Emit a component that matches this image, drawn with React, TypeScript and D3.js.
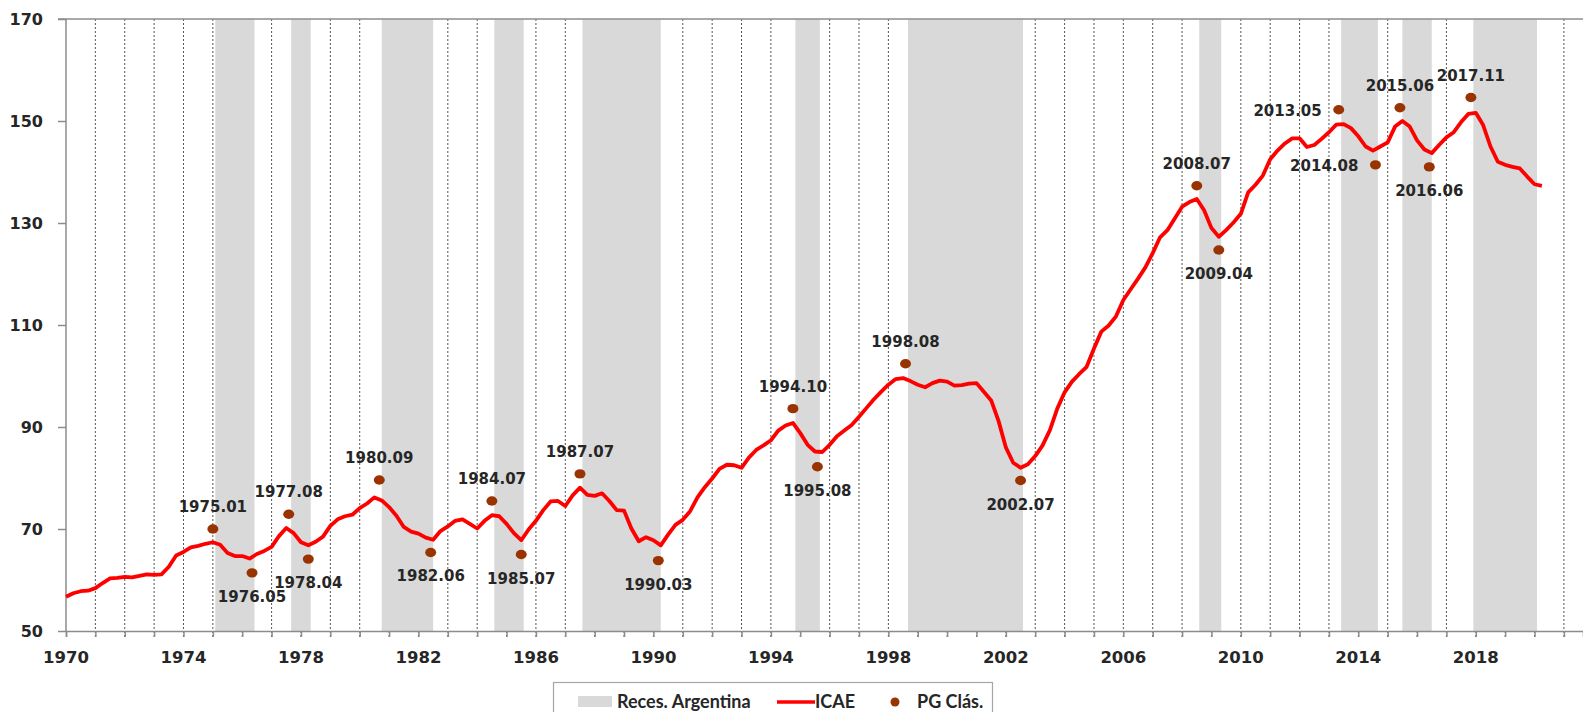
import React, { useEffect, useRef } from 'react';
import * as d3 from 'd3';

// ICAE, quarterly readings starting 1970 Q1 (step 0.25 yr)
const icaeStart = 1970;
const icaeValues = [
  56.7, 57.4, 57.8, 57.9, 58.4, 59.4, 60.3, 60.4, 60.6, 60.5, 60.8, 61.1,
  61.0, 61.1, 62.6, 64.8, 65.5, 66.4, 66.7, 67.1, 67.4, 66.9, 65.3, 64.7,
  64.7, 64.2, 65.1, 65.7, 66.5, 68.6, 70.2, 69.2, 67.4, 66.8, 67.5, 68.5,
  70.6, 71.9, 72.5, 72.8, 74.1, 75.0, 76.2, 75.6, 74.3, 72.6, 70.4, 69.5,
  69.1, 68.3, 67.9, 69.6, 70.5, 71.6, 71.9, 71.0, 70.1, 71.6, 72.7, 72.5,
  71.0, 69.2, 67.8, 69.9, 71.6, 73.7, 75.4, 75.5, 74.5, 76.6, 78.1, 76.7,
  76.5, 77.0, 75.5, 73.7, 73.6, 70.1, 67.6, 68.4, 67.8, 66.8, 68.9, 70.8,
  71.8, 73.5, 76.2, 78.2, 79.9, 81.8, 82.6, 82.5, 82.0, 84.0, 85.5, 86.4,
  87.4, 89.3, 90.3, 90.8, 88.8, 86.5, 85.2, 85.1, 86.5, 88.2, 89.3, 90.4,
  92.0, 93.7, 95.4, 96.9, 98.3, 99.4, 99.6, 99.0, 98.3, 97.8, 98.6, 99.1,
  98.9, 98.1, 98.2, 98.5, 98.6, 96.9, 95.2, 91.2, 86.0, 83.0, 82.0, 82.7,
  84.3, 86.4, 89.4, 93.6, 96.8, 98.9, 100.4, 101.8, 105.4, 108.7, 109.9, 111.7,
  114.9, 117.0, 119.1, 121.3, 124.1, 127.2, 128.6, 130.9, 133.2, 134.1, 134.7, 132.5,
  129.0, 127.3, 128.6, 130.1, 131.8, 136.0, 137.5, 139.3, 142.5, 144.2, 145.6, 146.6,
  146.6, 144.9, 145.3, 146.5, 147.8, 149.3, 149.4, 148.6, 147.0, 145.0, 144.2, 145.0,
  145.8, 148.9, 150.0, 148.9, 146.2, 144.4, 143.7, 145.3, 146.8, 147.8, 149.8, 151.4,
  151.6, 149.2, 145.0, 142.0, 141.4, 141.0, 140.7, 139.1, 137.6, 137.3,
];
const icaeStep = 0.25;

// Classical turning points (PG Clás.), alternating peak / trough
const turnDates = [
  '1975.01', '1976.05', '1977.08', '1978.04', '1980.09', '1982.06',
  '1984.07', '1985.07', '1987.07', '1990.03', '1994.10', '1995.08',
  '1998.08', '2002.07', '2008.07', '2009.04', '2013.05', '2014.08',
  '2015.06', '2016.06', '2017.11',
];
const turnKinds = [
  'P', 'T', 'P', 'T', 'P', 'T', 'P', 'T', 'P', 'T', 'P', 'T',
  'P', 'T', 'P', 'T', 'P', 'T', 'P', 'T', 'P',
];
const dotValues = [
  70.0, 61.4, 72.9, 64.1, 79.6, 65.4, 75.5, 65.0, 80.8, 63.8, 93.6, 82.2,
  102.4, 79.5, 137.3, 124.7, 152.2, 141.4, 152.6, 141.0, 154.6,
];
const lastRecessionEnd = '2020.01';

const yTicks = [50, 70, 90, 110, 130, 150, 170];
const xLabelYears = d3.range(1970, 2019, 4);
const legendLabels = ['Reces. Argentina', 'ICAE', 'PG Clás.'];

const W = 1583;
const H = 712;
const FONT = '"DejaVu Sans", Verdana, sans-serif';

const App: React.FC = () => {
  const svgRef = useRef<SVGSVGElement | null>(null);

  useEffect(() => {
    const svg = d3.select(svgRef.current);
    svg.selectAll('*').remove();

    const left = 66;
    const top = 19;
    const bottom = 631;

    const x = d3.scaleLinear().domain([1970, 2021.65]).range([left, W]);
    const y = d3.scaleLinear().domain([50, 170]).range([bottom, top]);

    const parse = (s: string) => {
      const [yr, m] = s.split('.').map(Number);
      return { yr, m };
    };

    // gridlines every year
    const years = d3.range(1971, 2022);
    svg.append('g')
      .selectAll('line')
      .data(years)
      .join('line')
      .attr('x1', (d) => x(d))
      .attr('x2', (d) => x(d))
      .attr('y1', top)
      .attr('y2', bottom + 6)
      .attr('stroke', '#555')
      .attr('stroke-width', 1)
      .attr('stroke-dasharray', '2,2');

    // recession bands: peak -> trough
    const bands: [number, number][] = [];
    for (let i = 0; i < turnDates.length; i += 2) {
      const a = parse(turnDates[i]);
      const b = parse(i + 1 < turnDates.length ? turnDates[i + 1] : lastRecessionEnd);
      bands.push([a.yr + a.m / 12, b.yr + b.m / 12]);
    }
    svg.append('g')
      .selectAll('rect')
      .data(bands)
      .join('rect')
      .attr('x', (d) => x(d[0]))
      .attr('width', (d) => x(d[1]) - x(d[0]))
      .attr('y', top)
      .attr('height', bottom - top)
      .attr('fill', '#d9d9d9');

    // axes
    const axisColor = '#8c8c8c';
    svg.append('line')
      .attr('x1', left - 8).attr('x2', W)
      .attr('y1', top).attr('y2', top)
      .attr('stroke', axisColor).attr('stroke-width', 1.5);
    svg.append('line')
      .attr('x1', left).attr('x2', left)
      .attr('y1', top).attr('y2', bottom)
      .attr('stroke', axisColor).attr('stroke-width', 1.5);

    const yAxis = svg.append('g').attr('transform', `translate(${left},0)`)
      .call(d3.axisLeft(y).tickValues(yTicks).tickSize(8).tickPadding(15).tickFormat(d3.format('d')));
    yAxis.select('.domain').remove();
    yAxis.selectAll('.tick line').attr('stroke', axisColor).attr('stroke-width', 1.5);
    yAxis.selectAll('.tick text')
      .attr('fill', '#262626')
      .style('font-family', FONT)
      .style('font-weight', 'bold')
      .style('font-size', '16px');

    const xAxis = svg.append('g').attr('transform', `translate(0,${bottom})`)
      .call(d3.axisBottom(x).tickValues(d3.range(1970, 2022)).tickSize(6).tickFormat(() => ''));
    xAxis.select('.domain').attr('stroke', axisColor).attr('stroke-width', 1.5);
    xAxis.selectAll('.tick line').attr('stroke', axisColor).attr('stroke-width', 1.5);

    svg.append('g')
      .selectAll('text')
      .data(xLabelYears)
      .join('text')
      .attr('x', (d) => x(d))
      .attr('y', 663)
      .attr('text-anchor', 'middle')
      .attr('fill', '#262626')
      .style('font-family', FONT)
      .style('font-weight', 'bold')
      .style('font-size', '16.5px')
      .text((d) => d);

    // ICAE line
    const line = d3.line<number>()
      .x((_, i) => x(icaeStart + i * icaeStep))
      .y((d) => y(d));
    svg.append('path')
      .datum(icaeValues)
      .attr('d', line)
      .attr('fill', 'none')
      .attr('stroke', '#ff0000')
      .attr('stroke-width', 3.8)
      .attr('stroke-linejoin', 'round');

    // turning point markers and labels
    const points = turnDates.map((s, i) => {
      const p = parse(s);
      return { label: s, kind: turnKinds[i], t: p.yr + (p.m - 1) / 12, v: dotValues[i] };
    });
    const leftLabels = new Set(['2013.05', '2014.08']);

    svg.append('g')
      .selectAll('ellipse')
      .data(points)
      .join('ellipse')
      .attr('cx', (d) => x(d.t))
      .attr('cy', (d) => y(d.v))
      .attr('rx', 5.5)
      .attr('ry', 4.7)
      .attr('fill', '#993300');

    svg.append('g')
      .selectAll('text')
      .data(points)
      .join('text')
      .attr('x', (d) => (leftLabels.has(d.label) ? x(d.t) - 17 : x(d.t)))
      .attr('y', (d) => {
        if (leftLabels.has(d.label)) return y(d.v) + 6;
        return d.kind === 'P' ? y(d.v) - 17 : y(d.v) + 29;
      })
      .attr('text-anchor', (d) => (leftLabels.has(d.label) ? 'end' : 'middle'))
      .attr('fill', '#262626')
      .style('font-family', FONT)
      .style('font-weight', 'bold')
      .style('font-size', '15px')
      .text((d) => d.label);

    // legend
    const lg = svg.append('g');
    lg.append('rect')
      .attr('x', 553.5).attr('y', 682.5)
      .attr('width', 439).attr('height', 40)
      .attr('fill', '#fff')
      .attr('stroke', '#a6a6a6')
      .attr('stroke-width', 1.2);
    lg.append('rect')
      .attr('x', 578).attr('y', 696)
      .attr('width', 34).attr('height', 11)
      .attr('fill', '#d9d9d9');
    lg.append('line')
      .attr('x1', 777).attr('x2', 815)
      .attr('y1', 702).attr('y2', 702)
      .attr('stroke', '#ff0000').attr('stroke-width', 3.5);
    lg.append('circle')
      .attr('cx', 895).attr('cy', 702).attr('r', 4.5)
      .attr('fill', '#993300');
    const legendX = [617, 815, 917];
    lg.selectAll('text.lg')
      .data(legendLabels)
      .join('text')
      .attr('class', 'lg')
      .attr('x', (_, i) => legendX[i])
      .attr('y', 708)
      .attr('fill', '#262626')
      .style('font-family', 'Lato, "Open Sans", sans-serif')
      .style('font-weight', 'bold')
      .style('font-size', '18px')
      .text((d) => d);
  }, []);

  return (
    <div style={{ position: 'absolute', left: 0, top: 0 }}>
      <svg ref={svgRef} width={W} height={H} style={{ display: 'block', background: '#fff' }} />
    </div>
  );
};

export default App;
